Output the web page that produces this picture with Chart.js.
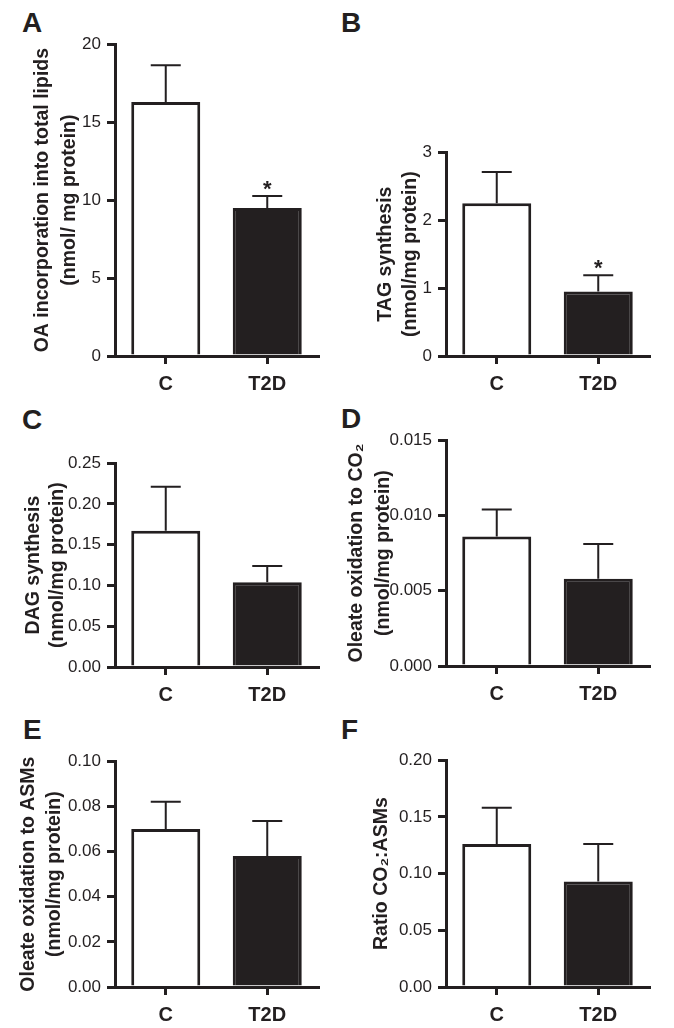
<!DOCTYPE html>
<html>
<head>
<meta charset="utf-8">
<script src="https://cdn.jsdelivr.net/npm/chart.js@4.4.1/dist/chart.umd.min.js"></script>
<style>
  body { margin: 0; background: #fff; }
  #wrap { position: relative; width: 674px; height: 1028px; overflow: hidden; }
  canvas { position: absolute; }
  .letter { position: absolute; font: bold 28px "Liberation Sans", Arial, sans-serif; line-height: 1; color: #231f20; }
</style>
</head>
<body>
<div id="wrap">
  <div class="letter" style="left:22px;top:9px">A</div>
  <div class="letter" style="left:341px;top:9px">B</div>
  <div class="letter" style="left:22px;top:406px">C</div>
  <div class="letter" style="left:341px;top:405px">D</div>
  <div class="letter" style="left:23px;top:716px">E</div>
  <div class="letter" style="left:341px;top:716px">F</div>
  <canvas id="chartA"></canvas>
  <canvas id="chartB"></canvas>
  <canvas id="chartC"></canvas>
  <canvas id="chartD"></canvas>
  <canvas id="chartE"></canvas>
  <canvas id="chartF"></canvas>
</div>
<script>
const ink = '#231f20';
const family = '"Liberation Sans", Arial, Helvetica, sans-serif';

const groups = ['C', 'T2D'];

// A - OA incorporation into total lipids
const meanA = [16.3, 9.5];
const semA = [2.35, 0.77];
const ticksA = ['0', '5', '10', '15', '20'];
const starsA = ['', '*'];

// B - TAG synthesis
const meanB = [2.25, 0.95];
const semB = [0.46, 0.24];
const ticksB = ['0', '1', '2', '3'];
const starsB = ['', '*'];

// C - DAG synthesis
const meanC = [0.167, 0.104];
const semC = [0.054, 0.020];
const ticksC = ['0.00', '0.05', '0.10', '0.15', '0.20', '0.25'];
const starsC = ['', ''];

// D - oleate oxidation to CO2
const meanD = [0.0086, 0.0058];
const semD = [0.0018, 0.0023];
const ticksD = ['0.000', '0.005', '0.010', '0.015'];
const starsD = ['', ''];

// E - oleate oxidation to ASMs
const meanE = [0.070, 0.058];
const semE = [0.012, 0.0155];
const ticksE = ['0.00', '0.02', '0.04', '0.06', '0.08', '0.10'];
const starsE = ['', ''];

// F - ratio CO2:ASMs
const meanF = [0.126, 0.093];
const semF = [0.032, 0.033];
const ticksF = ['0.00', '0.05', '0.10', '0.15', '0.20'];
const starsF = ['', ''];

// upper SEM bar + asterisk above it
const errorBars = {
  id: 'errorBars',
  afterDatasetsDraw(chart, args, opts) {
    const meta = chart.getDatasetMeta(0);
    const data = chart.data.datasets[0].data;
    const y = chart.scales.y;
    const ctx = chart.ctx;
    ctx.save();
    ctx.strokeStyle = ink;
    ctx.fillStyle = ink;
    ctx.lineWidth = 2;
    meta.data.forEach((bar, i) => {
      const top = y.getPixelForValue(data[i] + opts.sem[i]);
      ctx.beginPath();
      ctx.moveTo(bar.x, bar.y);
      ctx.lineTo(bar.x, top);
      ctx.moveTo(bar.x - 15, top);
      ctx.lineTo(bar.x + 15, top);
      ctx.stroke();
      if (opts.stars[i]) {
        ctx.font = 'bold 22px ' + family;
        ctx.textAlign = 'center';
        ctx.textBaseline = 'alphabetic';
        ctx.fillText(opts.stars[i], bar.x, top);
      }
    });
    ctx.restore();
  }
};

const panels = [
  { id: 'chartA', mean: meanA, sem: semA, ticks: ticksA, stars: starsA, x0: 0, area: [115, 40, 318, 356], titleX: 43, lh: 27,
    title: ['OA incorporation into total lipids', '(nmol/ mg protein)'] },
  { id: 'chartB', mean: meanB, sem: semB, ticks: ticksB, stars: starsB, x0: 337, area: [446, 148, 649, 356], titleX: 386, lh: 25,
    title: ['TAG synthesis', '(nmol/mg protein)'] },
  { id: 'chartC', mean: meanC, sem: semC, ticks: ticksC, stars: starsC, x0: 0, area: [115, 459, 318, 667], titleX: 34, lh: 24,
    title: ['DAG synthesis', '(nmol/mg protein)'] },
  { id: 'chartD', mean: meanD, sem: semD, ticks: ticksD, stars: starsD, x0: 337, area: [446, 436, 649, 666], titleX: 357, lh: 27,
    title: ['Oleate oxidation to CO\u2082', '(nmol/mg protein)'] },
  { id: 'chartE', mean: meanE, sem: semE, ticks: ticksE, stars: starsE, x0: 0, area: [115, 757, 318, 987], titleX: 29, lh: 26,
    title: ['Oleate oxidation to ASMs', '(nmol/mg protein)'] },
  { id: 'chartF', mean: meanF, sem: semF, ticks: ticksF, stars: starsF, x0: 337, area: [446, 756, 649, 987], titleX: 382, lh: 26,
    title: ['Ratio CO\u2082:ASMs'] }
];

const XH = 46, PT = 12;

panels.forEach(p => {
  const cv = document.getElementById(p.id);
  const top = p.area[1] - PT;
  cv.width = 337;
  cv.height = p.area[3] - top + XH;
  cv.style.left = p.x0 + 'px';
  cv.style.top = top + 'px';
  const yW = p.area[0] - p.x0;
  const vals = p.ticks.map(Number);

  new Chart(cv, {
    type: 'bar',
    data: {
      labels: groups,
      datasets: [{
        data: p.mean,
        backgroundColor: ['#ffffff', ink],
        borderColor: ink,
        borderWidth: 3,
        barPercentage: 0.68,
        categoryPercentage: 1
      }]
    },
    options: {
      responsive: false,
      animation: false,
      layout: { padding: { left: 0, top: PT, right: p.x0 + 337 - p.area[2], bottom: 0 } },
      plugins: {
        legend: { display: false },
        tooltip: { enabled: false },
        errorBars: { sem: p.sem, stars: p.stars }
      },
      scales: {
        x: {
          z: 1,
          grid: { display: true, offset: false, drawOnChartArea: false, drawTicks: true, tickLength: 8, lineWidth: 3, tickWidth: 3, tickColor: ink, color: ink },
          border: { display: true, width: 3, color: ink },
          ticks: { color: ink, padding: 8, font: { family: family, size: 20, weight: 'bold' } },
          afterFit: s => { s.height = XH; }
        },
        y: {
          min: vals[0],
          max: vals[vals.length - 1],
          afterBuildTicks: s => { s.ticks = vals.map(v => ({ value: v })); },
          grid: { display: true, drawOnChartArea: false, drawTicks: true, tickLength: 8, lineWidth: 3, tickWidth: 3, tickColor: ink, color: ink },
          border: { display: true, width: 3, color: ink },
          ticks: { color: ink, padding: 6, font: { family: family, size: 17 }, callback: (v, i) => p.ticks[i] },
          title: {
            display: true,
            text: p.title,
            color: ink,
            font: { family: family, size: 19.5, weight: 'bold', lineHeight: p.lh + 'px' },
            padding: { top: p.titleX - p.x0 - p.lh / 2, bottom: 0 }
          },
          afterFit: s => { s.width = yW; }
        }
      }
    },
    plugins: [errorBars]
  });
});
</script>
</body>
</html>
